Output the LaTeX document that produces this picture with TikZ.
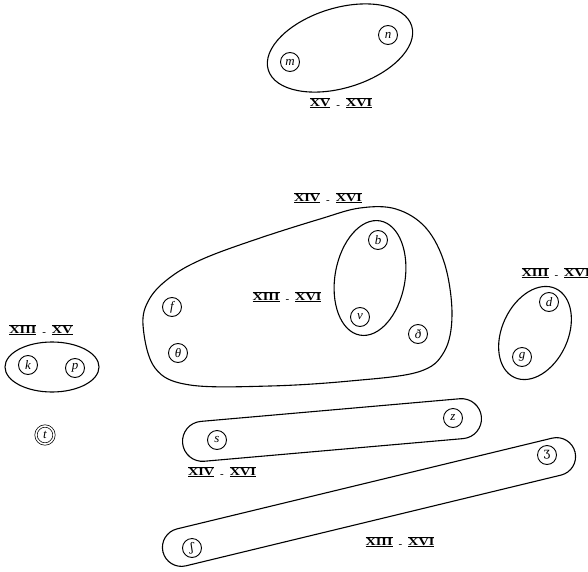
\documentclass[tikz,border=0pt]{standalone}
\usepackage{fontspec}
\usepackage{graphicx}
\setmainfont{Liberation Serif}
\newfontfamily\ipafont{DejaVu Serif}
% a roman numeral with a bar above and below
\newcommand\rn[1]{\scalebox{1.3}[1]{\vbox{\hrule height .5pt\kern.8pt\hbox{\bfseries #1}\kern.6pt\hrule height .9pt}}}
% a period "from - to"
\newcommand\ranged[2]{\rn{#1}\hspace{6bp}-\hspace{6bp}\rn{#2}}
\begin{document}
\begin{tikzpicture}[x=1bp,y=-1bp,
  snd/.style={circle, draw, line width=0.9bp, minimum size=19bp, inner sep=0pt,
              font=\fontsize{13}{13}\selectfont\itshape},
  grp/.style={line width=1.1bp},
  per/.style={font=\fontsize{11}{11}\selectfont, inner sep=0pt}]
\useasboundingbox (0,0) rectangle (588,572);

% top group
\node[snd] (m) at (290,62) {m};
\node[snd] (n) at (388,35) {n};
\draw[grp, rotate around={17:(340,48)}] (340,48) ellipse [x radius=75bp, y radius=40bp];
\node[per] (lmn) at (341,103) {\ranged{XV}{XVI}};

% large group with nested group
\draw[grp] plot[smooth cycle, tension=0.6] coordinates {
  (143,325) (150,298) (172,276) (205,258) (260,238) (320,219) (360,208)
  (396,209) (426,228) (445,265) (452,315) (444,352) (418,372) (350,381)
  (270,386) (190,385) (155,368)};
\node[per] (lbig) at (328,198) {\ranged{XIV}{XVI}};
\draw[grp, rotate around={-10:(370,278)}] (370,278) ellipse [x radius=35bp, y radius=58bp];
\node[per] (lbv) at (287,297) {\ranged{XIII}{XVI}};
\node[snd] (f) at (172,307) {f};
\node[snd] (th) at (178,353) {θ};
\node[snd] (b) at (378,240) {b};
\node[snd] (v) at (360,317) {v};
\node[snd] (eth) at (418,334) {ð};

% d / g
\draw[grp, rotate around={-25:(535,333)}] (535,333) ellipse [x radius=33bp, y radius=49bp];
\node[snd] (d) at (549,302) {d};
\node[snd] (g) at (522,357) {g};
\node[per] (ldg) at (556,273) {\ranged{XIII}{XVI}};

% k / p and t
\draw[grp] (52,367) ellipse [x radius=47bp, y radius=25bp];
\node[snd] (k) at (28,365) {k};
\node[snd] (p) at (75,368) {p};
\node[per] (lkp) at (41,330) {\ranged{XIII}{XV}};
\node[snd, double, double distance=1.6bp, line width=0.7bp, minimum size=18bp] (t) at (45,435) {t};

% s / z
\draw[grp, rotate around={5:(332,430)}, rounded corners=20bp] (182,410) rectangle (482,450);
\node[snd] (s) at (217,440) {s};
\node[snd] (z) at (453,418) {z};
\node[per] (lsz) at (222,472) {\ranged{XIV}{XVI}};

% esh / ezh
\draw[grp, rotate around={13.6:(369,502)}, rounded corners=19bp] (157,483) rectangle (581,521);
\node[snd, font=\fontsize{12}{12}\ipafont] (ezh) at (547,455) {ʒ};
\node[snd, font=\fontsize{12}{12}\ipafont] (esh) at (192,548) {ʃ};
\node[per] (lsh) at (400,542) {\ranged{XIII}{XVI}};
\end{tikzpicture}
\end{document}
